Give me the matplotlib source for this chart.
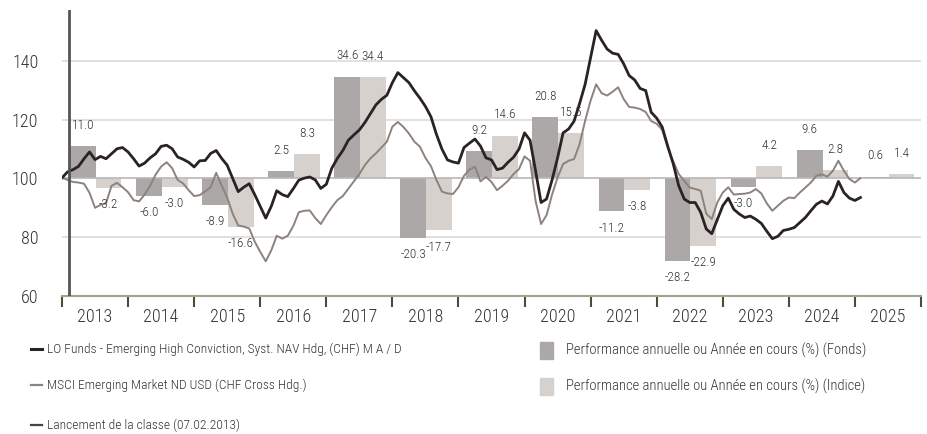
import numpy as np
import matplotlib.pyplot as plt
from matplotlib.lines import Line2D
from matplotlib.patches import Rectangle

plt.rcParams["font.family"] = ["Roboto Condensed", "Archivo Narrow", "Fira Sans Condensed", "DejaVu Sans"]
plt.rcParams["font.weight"] = 300

# annual performance (%) per year
years = np.arange(2013, 2026)
fund_perf = [11.0, -6.0, -8.9, 2.5, 34.6, -20.3, 9.2, 20.8, -11.2, -28.2, -3.0, 9.6, 0.6]
index_perf = [-3.2, -3.0, -16.6, 8.3, 34.4, -17.7, 14.6, 15.5, -3.8, -22.9, 4.2, 2.8, 1.4]

# monthly rebased values (100 = start), from Jan 2013
fund_nav = [
    100.2, 102.2, 103.0, 104.1, 106.7, 109.0, 106.4, 107.5, 106.7, 108.4, 110.1, 110.5,
    109.0, 106.7, 104.2, 105.2, 107.0, 108.4, 110.9, 111.3, 110.1, 107.3, 106.5, 105.5,
    103.9, 106.0, 106.1, 108.5, 109.5, 106.8, 104.5, 100.0, 95.5, 97.0, 98.2, 94.5,
    90.5, 86.5, 90.5, 95.8, 94.5, 93.8, 96.5, 99.4, 100.1, 100.5, 99.5, 96.6,
    98.0, 103.5, 106.8, 109.5, 113.0, 114.8, 116.5, 119.0, 122.0, 125.0, 126.9, 128.3,
    132.6, 136.0, 134.3, 132.6, 129.8, 127.3, 124.5, 121.0, 115.0, 110.0, 106.3, 105.6,
    105.2, 110.5, 112.0, 113.4, 111.0, 107.0, 106.3, 103.0, 103.5, 105.5, 107.2, 110.0,
    115.5, 113.0, 102.6, 91.8, 93.0, 99.5, 107.0, 115.5, 116.8, 119.5, 125.5, 132.0,
    141.2, 150.3, 147.0, 144.0, 142.6, 142.2, 139.0, 135.0, 133.5, 130.6, 129.9, 122.5,
    120.5, 117.5, 111.0, 105.0, 97.5, 93.0, 91.8, 91.8, 88.4, 82.8, 81.2, 86.0,
    90.7, 93.3, 89.5, 87.9, 86.7, 87.2, 86.1, 84.7, 82.0, 79.5, 80.3, 82.3,
    82.7, 83.3, 85.0, 86.7, 89.0, 91.2, 92.3, 91.3, 94.0, 99.0, 95.2, 93.3,
    92.5, 93.5,
]
index_nav = [
    100.3, 99.5, 98.8, 98.6, 98.2, 95.1, 90.0, 91.0, 91.6, 97.5, 98.5, 97.0,
    95.3, 92.6, 92.2, 94.5, 97.5, 101.3, 104.0, 105.5, 103.5, 99.5, 98.3, 96.0,
    94.0, 94.3, 95.6, 97.0, 101.9, 97.5, 93.5, 88.0, 84.0, 83.6, 83.0, 78.5,
    75.0, 71.8, 75.5, 80.5, 79.5, 80.5, 83.8, 88.5, 89.0, 89.1, 86.5, 84.5,
    87.5, 90.2, 92.6, 94.0, 96.5, 99.0, 101.5, 104.5, 106.8, 108.5, 110.5, 112.5,
    117.6, 119.2, 117.5, 115.3, 112.5, 110.8, 107.0, 104.2, 99.5, 95.5, 94.9, 94.7,
    97.0, 100.9, 103.0, 104.0, 99.0, 100.5, 98.8, 96.0, 97.5, 99.2, 101.5, 103.2,
    107.5, 106.0, 92.4, 84.5, 87.5, 94.5, 100.3, 104.9, 106.0, 106.6, 111.7, 119.6,
    126.5, 132.0, 129.0, 128.2, 129.5, 131.0, 127.0, 124.3, 124.1, 123.6, 122.6, 119.5,
    118.6, 116.5, 110.5, 105.8, 101.5, 99.2, 96.9, 96.4, 95.8, 88.0, 86.2, 91.8,
    95.2, 97.0, 94.5, 94.7, 94.8, 95.2, 96.4, 94.9, 91.5, 89.0, 90.7, 92.4,
    93.5, 93.3, 95.2, 96.9, 98.6, 100.9, 101.4, 100.6, 102.6, 106.0, 102.6, 99.8,
    98.6, 100.1,
]
launch = 2013 + 37 / 365  # 07.02.2013

FUND_LINE = "#2b2323"
INDEX_LINE = "#8d827c"
FUND_BAR = "#aca8a7"
INDEX_BAR = "#d6d1cd"
TXT = "#333333"

fig = plt.figure(figsize=(9.28, 4.34), dpi=100)
ax = fig.add_axes([62 / 928, (434 - 296) / 434, (921 - 62) / 928, 286 / 434])

t_fund = 2013 + np.arange(len(fund_nav)) / 12
t_index = 2013 + np.arange(len(index_nav)) / 12

# gridlines
for y in [80, 120, 140]:
    ax.axhline(y, color="#dcdcdc", lw=1.2, zorder=0)
ax.axhline(100, color="#b8b8b8", lw=1.2, zorder=2)

# bars, drawn from the 100 baseline
ax.bar(years + 0.12, fund_perf, width=0.39, bottom=100, align="edge",
       color=FUND_BAR, zorder=1)
ax.bar(years + 0.51, index_perf, width=0.39, bottom=100, align="edge",
       color=INDEX_BAR, zorder=1)

for yr, fv, iv in zip(years, fund_perf, index_perf):
    for xc, v in [(yr + 0.315, fv), (yr + 0.705, iv)]:
        ax.annotate(f"{v:.1f}", xy=(xc, 100 + v),
                    xytext=(0, 15 if v >= 0 else -12), textcoords="offset points",
                    ha="center", va="center", fontsize=9.5, color=TXT, zorder=5)

ax.plot(t_index, index_nav, color=INDEX_LINE, lw=1.4, zorder=3)
ax.plot(t_fund, fund_nav, color=FUND_LINE, lw=2.0, zorder=4)

# launch marker
ax.axvline(launch, color="#555555", lw=2, zorder=4)

ax.set_xlim(2013, 2026)
ax.set_ylim(60, 157.3)
ax.set_yticks([60, 80, 100, 120, 140])
ax.tick_params(axis="y", length=0, pad=17, labelsize=13, labelcolor=TXT)
ax.set_xticks(np.arange(2013, 2027))
ax.set_xticklabels([])
ax.set_xticks(years + 0.5, minor=True)
ax.set_xticklabels([str(y) for y in years], minor=True)
ax.tick_params(axis="x", which="major", length=8, width=1.5, color="#4d4d33", direction="out")
ax.tick_params(axis="x", which="minor", length=0, pad=9, labelsize=13, labelcolor=TXT)

for s in ["top", "right", "left"]:
    ax.spines[s].set_visible(False)
ax.spines["bottom"].set_color("#a3a392")
ax.spines["bottom"].set_linewidth(1.5)

# legend, placed by hand in pixel coordinates
def fx(px):
    return px / 928

def fy(py):
    return 1 - py / 434

legend_lines = [
    (349, FUND_LINE, 2.2, "LO Funds - Emerging High Conviction, Syst. NAV Hdg, (CHF) M A / D"),
    (385, INDEX_LINE, 1.6, "MSCI Emerging Market ND USD (CHF Cross Hdg.)"),
    (425, "#444444", 1.6, "Lancement de la classe (07.02.2013)"),
]
for py, c, lw, label in legend_lines:
    fig.add_artist(Line2D([fx(31), fx(42)], [fy(py), fy(py)], color=c, lw=lw))
    fig.text(fx(47), fy(py), label, va="center", ha="left", fontsize=9.7, color=TXT)

legend_bars = [
    (350, FUND_BAR, "Performance annuelle ou Année en cours (%) (Fonds)"),
    (386, INDEX_BAR, "Performance annuelle ou Année en cours (%) (Indice)"),
]
for py, c, label in legend_bars:
    fig.add_artist(Rectangle((fx(540), fy(py + 8.5)), 13 / 928, 17 / 434,
                             color=c, transform=fig.transFigure))
    fig.text(fx(566), fy(py), label, va="center", ha="left", fontsize=10.5, color=TXT)

fig.savefig("out.png", dpi=100)
